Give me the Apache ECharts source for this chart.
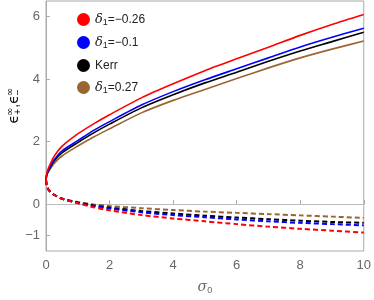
<!DOCTYPE html>
<html><head><meta charset="utf-8">
<script src="https://cdn.jsdelivr.net/npm/echarts@6/dist/echarts.min.js"></script>
<style>html,body{margin:0;padding:0;background:#fff}#c{width:374px;height:300px}</style>
</head><body><div id="c"></div>
<script>
const sigma = [0, 0.02, 0.05, 0.1, 0.25, 0.5, 1, 1.5, 2, 3, 4, 5, 6, 7, 8, 9, 10];
const upperRed   = [0.77, 0.96, 1.08, 1.21, 1.52, 1.85, 2.25, 2.57, 2.86, 3.40, 3.85, 4.27, 4.65, 5.02, 5.40, 5.75, 6.07];
const upperBlue  = [0.77, 0.93, 1.03, 1.14, 1.41, 1.70, 2.03, 2.36, 2.64, 3.17, 3.60, 3.98, 4.33, 4.68, 5.03, 5.34, 5.63];
const upperKerr  = [0.77, 0.92, 1.01, 1.11, 1.37, 1.64, 1.97, 2.28, 2.56, 3.08, 3.50, 3.88, 4.22, 4.57, 4.90, 5.20, 5.50];
const upperBrown = [0.77, 0.90, 0.98, 1.07, 1.29, 1.54, 1.86, 2.15, 2.41, 2.92, 3.32, 3.67, 4.02, 4.36, 4.68, 4.96, 5.22];
const lowerRed   = [0.77, 0.62, 0.52, 0.43, 0.30, 0.17, 0.03, -0.10, -0.20, -0.35, -0.46, -0.55, -0.64, -0.72, -0.79, -0.85, -0.91];
const lowerBlue  = [0.77, 0.62, 0.52, 0.43, 0.30, 0.17, 0.04, -0.06, -0.14, -0.26, -0.35, -0.42, -0.49, -0.55, -0.60, -0.64, -0.68];
const lowerKerr  = [0.77, 0.62, 0.52, 0.43, 0.30, 0.17, 0.05, -0.04, -0.11, -0.22, -0.30, -0.37, -0.43, -0.48, -0.53, -0.57, -0.60];
const lowerBrown = [0.77, 0.62, 0.52, 0.43, 0.31, 0.18, 0.07, -0.01, -0.06, -0.13, -0.19, -0.24, -0.28, -0.32, -0.36, -0.40, -0.44];
const names = ['δ1=−0.26', 'δ1=−0.1', 'Kerr', 'δ1=0.27'];
const legendRich = {'δ1=−0.26': '{d|δ}{s|1}{t|=−0.26}', 'δ1=−0.1': '{d|δ}{s|1}{t|=−0.1}', 'Kerr': '{t|Kerr}', 'δ1=0.27': '{d|δ}{s|1}{t|=0.27}'};
const colors = ['#ff0000', '#0000ff', '#000000', '#996633'];
const xTicks = [0, 2, 4, 6, 8, 10];
const yTicks = [-1, 0, 2, 4, 6];

const uppers = [upperRed, upperBlue, upperKerr, upperBrown];
const lowers = [lowerRed, lowerBlue, lowerKerr, lowerBrown];
const pair = arr => sigma.map((s, i) => [s, arr[i]]);
const series = [];
uppers.forEach((u, k) => series.push({
  name: names[k], type: 'line', data: pair(u), smooth: 0.25,
  showSymbol: false, color: colors[k], lineStyle: {width: 1.6, color: colors[k]}, z: 10 - k
}));
lowers.forEach((l, k) => series.push({
  name: names[k] + ' ', type: 'line', data: pair(l), smooth: 0.25,
  showSymbol: false, color: colors[k], lineStyle: {width: 2, type: [5, 3], color: colors[k]}, z: 10 - k
}));
series[0].markLine = {silent: true, symbol: 'none', label: {show: false},
  lineStyle: {color: '#bbbbbb', width: 1, type: 'solid'}, data: [{yAxis: 0}], z: 1};

const fmt = v => v < 0 ? '−' + Math.abs(v) : String(v);
const chart = echarts.init(document.getElementById('c'));
chart.setOption({
  animation: false,
  grid: {left: 46, right: 9, top: 1, bottom: 45, show: true, borderColor: '#aaaaaa', borderWidth: 1},
  legend: {
    data: names, orient: 'vertical', left: 72, top: 8, itemWidth: 13, itemHeight: 13, itemGap: 9,
    icon: 'circle', formatter: n => legendRich[n],
    textStyle: {rich: {
      d: {fontFamily: 'DejaVu Serif', fontStyle: 'italic', fontSize: 13, color: '#222'},
      s: {fontFamily: 'Liberation Sans', fontSize: 9, color: '#222', verticalAlign: 'bottom', padding: [6, 0, 0, 0]},
      t: {fontFamily: 'Liberation Sans', fontSize: 12, color: '#222'}
    }}
  },
  xAxis: {
    type: 'value', min: 0, max: 10,
    axisLine: {show: true, lineStyle: {color: '#aaaaaa'}},
    axisTick: {show: true, inside: true, length: 4, customValues: xTicks, lineStyle: {color: '#aaaaaa'}},
    axisLabel: {customValues: xTicks, formatter: fmt, color: '#666', fontSize: 13, fontFamily: 'Liberation Sans', margin: 8},
    splitLine: {show: false},
    name: '{a|σ}{b|0}', nameLocation: 'middle', nameGap: 28,
    nameTextStyle: {rich: {
      a: {fontFamily: 'DejaVu Serif', fontStyle: 'italic', fontSize: 14, color: '#666'},
      b: {fontFamily: 'Liberation Sans', fontSize: 9, color: '#666', verticalAlign: 'bottom', padding: [7, 0, 0, 0]}
    }}
  },
  yAxis: {
    type: 'value', min: -1.5, max: 6.5,
    axisLine: {show: true, lineStyle: {color: '#aaaaaa'}},
    axisTick: {show: true, inside: true, length: 4, customValues: yTicks, lineStyle: {color: '#aaaaaa'}},
    axisLabel: {customValues: yTicks, formatter: fmt, color: '#666', fontSize: 13, fontFamily: 'Liberation Sans', margin: 6},
    splitLine: {show: false}
  },
  graphic: [{
    type: 'text', left: 5, top: 88, rotation: Math.PI / 2, silent: true,
    style: {
      text: '{e|ϵ}{p|+}{i|∞}{c|,}{e|ϵ}{p|−}{i|∞}',
      rich: {
        e: {fontFamily: 'DejaVu Sans', fontSize: 14, color: '#666'},
        p: {fontFamily: 'Liberation Sans', fontSize: 10, color: '#666', verticalAlign: 'bottom', padding: [7, 0, 0, 0]},
        i: {fontFamily: 'DejaVu Sans', fontSize: 10, color: '#666', verticalAlign: 'top', padding: [0, 0, 8, -7]},
        c: {fontFamily: 'Liberation Sans', fontSize: 14, color: '#666'}
      }
    }
  }],
  series: series
});
</script></body></html>
